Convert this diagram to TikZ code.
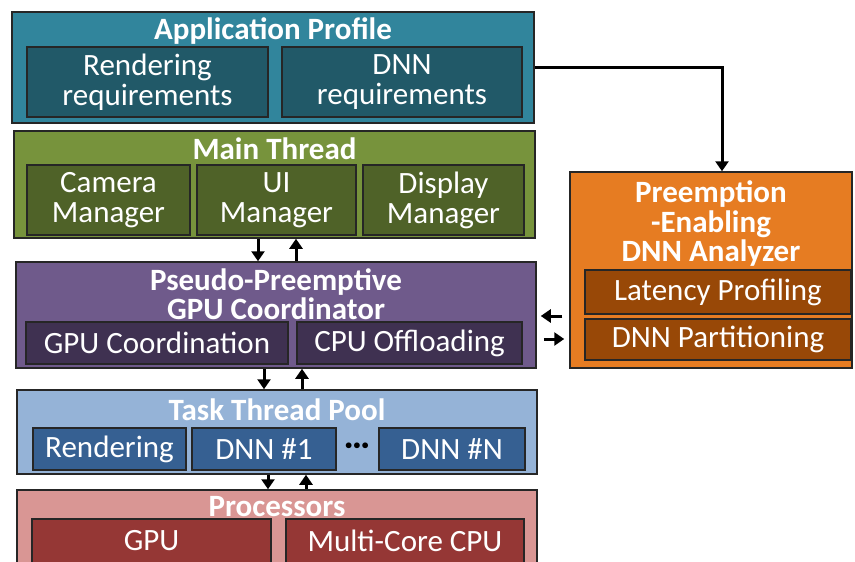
\documentclass[tikz,border=0pt]{standalone}
\usepackage{fontspec}
\setmainfont{Carlito}
\usetikzlibrary{arrows.meta}

\definecolor{appout}{HTML}{31859C}
\definecolor{appin}{HTML}{215968}
\definecolor{mainout}{HTML}{77933C}
\definecolor{mainin}{HTML}{4F6228}
\definecolor{coordout}{HTML}{6F5A8B}
\definecolor{coordin}{HTML}{3F3151}
\definecolor{poolout}{HTML}{95B3D7}
\definecolor{poolin}{HTML}{366092}
\definecolor{procout}{HTML}{D99694}
\definecolor{procin}{HTML}{953735}
\definecolor{anaout}{HTML}{E67C22}
\definecolor{anain}{HTML}{984807}

\begin{document}
\begin{tikzpicture}[x=1pt,y=-1pt,
 tier/.style={draw=black!85,line width=1.5pt,fill=#1,inner sep=0pt},
 cell/.style={draw=black!85,line width=1.2pt,fill=#1,inner sep=0pt,text=white,align=center,
   font=\fontsize{31}{30}\selectfont},
 ttl/.style={text=white,align=center,font=\fontsize{31}{29.5}\selectfont\bfseries},
 arr/.style={-{Triangle[length=10pt,width=13pt]},line width=3pt}]
\useasboundingbox (0,0) rectangle (855,562);
\clip (0,0) rectangle (855,562);
% application profile
\node[tier=appout,minimum width=522pt,minimum height=111pt] (app) at (273,67.5) {};
\node[ttl] (appT) at (273,31) {Application Profile};
\node[cell=appin,minimum width=241pt,minimum height=70pt] (rreq) at (147.5,82) {Rendering\\requirements};
\node[cell=appin,minimum width=240pt,minimum height=70pt] (dreq) at (402,82) {DNN\\requirements};
% main thread
\node[tier=mainout,minimum width=521pt,minimum height=107pt] (main) at (274.5,184.5) {};
\node[ttl] (mainT) at (274.5,149) {Main Thread};
\node[cell=mainin,minimum width=163pt,minimum height=70pt] (cam) at (108.5,200) {Camera\\Manager};
\node[cell=mainin,minimum width=159pt,minimum height=70pt] (ui) at (276.5,200) {UI\\Manager};
\node[cell=mainin,minimum width=161pt,minimum height=70pt] (disp) at (443.5,200) {Display\\Manager};
% gpu coordinator
\node[tier=coordout,minimum width=520pt,minimum height=106pt] (coord) at (276,315) {};
\node[ttl] (coordT) at (276,294) {Pseudo-Preemptive\\GPU Coordinator};
\node[cell=coordin,minimum width=262pt,minimum height=42pt] (gpuc) at (157,343) {GPU Coordination};
\node[cell=coordin,minimum width=225pt,minimum height=42pt] (cpuo) at (409.5,343) {CPU Offloading};
% task thread pool
\node[tier=poolout,minimum width=520pt,minimum height=84pt] (pool) at (277,432) {};
\node[ttl] (poolT) at (277,410) {Task Thread Pool};
\node[cell=poolin,minimum width=153pt,minimum height=42pt] (rend) at (109.5,449) {Rendering};
\node[cell=poolin,minimum width=144pt,minimum height=42pt] (dnnA) at (264,449) {DNN \#1};
\node[ttl,text=black] (dots) at (357,449) {···};
\node[cell=poolin,minimum width=146pt,minimum height=42pt] (dnnN) at (452,449) {DNN \#N};
% processors (runs past the bottom edge)
\node[tier=procout,minimum width=520pt,minimum height=80pt] (proc) at (277,530) {};
\node[ttl] (procT) at (277,507) {Processors};
\node[cell=procin,minimum width=239pt,minimum height=44pt] (gpu) at (151.5,541) {GPU};
\node[cell=procin,minimum width=238pt,minimum height=44pt] (mcpu) at (405,541) {Multi-Core CPU};
% dnn analyzer
\node[tier=anaout,minimum width=282pt,minimum height=196pt] (ana) at (711,270) {};
\node[ttl] (anaT) at (711,224) {Preemption\\-Enabling\\DNN Analyzer};
\node[cell=anain,minimum width=266pt,minimum height=44pt] (lat) at (718,292) {Latency Profiling};
\node[cell=anain,minimum width=266pt,minimum height=41pt] (dpart) at (718,339.5) {DNN Partitioning};
% links
\draw[arr] (app.east) -| ([xshift=11pt]ana.north);
\foreach \a/\b/\s in {main/coord/-16.5,coord/pool/-12,pool/proc/-9} {
  \draw[arr] ([xshift=\s pt]\a.south) -- ([xshift=\s pt]\a.south |- \b.north);
  \draw[arr] ([xshift={(\s+38)*1pt}]\a.south |- \b.north) -- ([xshift={(\s+38)*1pt}]\a.south);
}
\draw[arr,shorten <=7pt,shorten >=4pt] ([yshift=-1pt]ana.west |- coord.east) -- ([yshift=-1pt]coord.east);
\draw[arr,shorten <=7pt,shorten >=5pt] ([yshift=-24pt]coord.east) -- ([yshift=-24pt]ana.west |- coord.east);
\end{tikzpicture}
\end{document}
